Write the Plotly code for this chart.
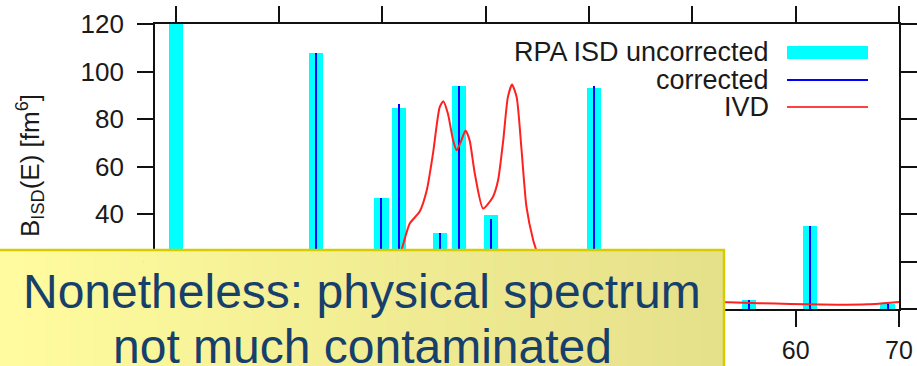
import plotly.graph_objects as go

# Discrete RPA strengths: excitation energy (MeV) and B_ISD (fm^6)
energies = [0.05, 13.6, 19.9, 21.6, 25.6, 27.4, 30.5, 40.5, 52.5, 55.5, 61.4, 68.9]
isd_uncorrected = [128.0, 107.7, 46.9, 84.6, 32.2, 93.8, 39.6, 93.0, 15.5, 3.8, 35.0, 2.0]
isd_corrected = [0.0, 107.7, 46.9, 86.4, 32.2, 93.8, 37.7, 93.8, 15.0, 3.8, 35.0, 2.0]

# Folded IVD strength curve
ivd_energy = [0, 5, 10, 15, 18, 20, 21.0, 21.85, 22.65, 23.6, 24.3, 24.9, 25.55, 25.9,
              26.35, 26.85, 27.2, 27.65, 28.05, 28.45, 28.95, 29.75, 30.7, 31.2, 31.7,
              32.15, 32.55, 33.0, 33.45, 33.95, 34.6, 34.9, 35.5, 36.5, 38, 40, 42, 45,
              48, 52, 55, 58, 61, 64, 67, 70]
ivd_strength = [0.5, 0.8, 1.2, 2.5, 5, 9, 15, 24.8, 36.0, 40.9, 50.0, 65.4, 85.0, 87.5,
                82.2, 71.0, 66.8, 71.0, 75.2, 71.0, 57.0, 42.3, 47.2, 54.2, 71.0,
                89.2, 94.5, 89.2, 68.2, 43.0, 29.0, 24.8, 17, 10, 6, 5, 4.5, 4,
                3.5, 3, 2.6, 2.3, 2.0, 1.8, 2.0, 3.0]

x_ticks = [0, 10, 20, 30, 40, 50, 60, 70]
y_ticks = [0, 20, 40, 60, 80, 100, 120]
# tick labels left uncovered by the callout box
x_labels = [60, 70]
y_labels = [40, 60, 80, 100, 120]

FONT = "Liberation Sans, Arial, Helvetica, sans-serif"
W, H = 917, 366
ML, MR, MT, MB = 155, 18, 24, 57
PW, PH = W - ML - MR, H - MT - MB
X_RANGE = [-2, 70]
Y_RANGE = [0, 120]


def px_x(px):
    return (px - ML) / PW


def px_y(py):
    return (H - MB - py) / PH


fig = go.Figure()

fig.add_trace(go.Bar(x=energies, y=isd_uncorrected, width=1.4,
                     marker=dict(color="#00ffff", line=dict(width=0)),
                     name="RPA ISD uncorrected"))
fig.add_trace(go.Bar(x=energies, y=isd_corrected, width=0.2,
                     marker=dict(color="#0000ff", line=dict(width=0)),
                     name="corrected"))
fig.add_trace(go.Scatter(x=ivd_energy, y=ivd_strength, mode="lines",
                         line=dict(color="#ff2020", width=2, shape="spline", smoothing=0.6),
                         name="IVD"))
# carrier for the label-only axes
fig.add_trace(go.Scatter(x=[], y=[], xaxis="x2", yaxis="y2", showlegend=False,
                         hoverinfo="skip"))

frame = dict(showline=True, linecolor="#111111", linewidth=1.5,
             ticks="outside", ticklen=16, tickwidth=1.5, tickcolor="#111111",
             mirror="ticks", showgrid=False, zeroline=False, showticklabels=False)
label_only = dict(showline=False, ticks="", showgrid=False, zeroline=False)

fig.update_layout(
    width=W, height=H,
    margin=dict(l=ML, r=MR, t=MT, b=MB, autoexpand=False),
    paper_bgcolor="white", plot_bgcolor="white",
    barmode="overlay", bargap=0, showlegend=False,
    xaxis=dict(range=X_RANGE, tickvals=x_ticks, **frame),
    yaxis=dict(range=Y_RANGE, tickvals=y_ticks, **frame),
    xaxis2=dict(range=X_RANGE, tickvals=x_labels, overlaying="x", side="bottom",
                anchor="y2", ticklabelstandoff=24,
                tickfont=dict(family=FONT, size=25, color="#1a1a1a"), **label_only),
    yaxis2=dict(range=Y_RANGE, tickvals=y_labels, overlaying="y", side="left",
                anchor="x2", ticklabelstandoff=30,
                tickfont=dict(family=FONT, size=26, color="#1a1a1a"), **label_only),
)

shapes = []
annotations = []

# Key, drawn with labels on the left and samples on the right
key_rows = [("RPA ISD uncorrected", 52.5, "#00ffff", 13),
            ("corrected", 80, "#0000ff", 2),
            ("IVD", 107, "#ff4040", 2)]
for label, py, color, lw in key_rows:
    annotations.append(dict(xref="paper", yref="paper", x=px_x(771), y=px_y(py),
                            xanchor="right", yanchor="middle", showarrow=False,
                            text=label, font=dict(family=FONT, size=27, color="#1a1a1a")))
    shapes.append(dict(type="line", xref="paper", yref="paper",
                       x0=px_x(787), x1=px_x(868), y0=px_y(py), y1=px_y(py),
                       line=dict(color=color, width=lw), layer="above"))

# Y-axis title
annotations.append(dict(xref="paper", yref="paper", x=px_x(30), y=px_y(166),
                        xanchor="center", yanchor="middle", showarrow=False, textangle=-90,
                        text="B<sub>ISD</sub>(E) [fm<sup>6</sup>]",
                        font=dict(family=FONT, size=26, color="#1a1a1a")))

# Callout box with a left-to-right yellow shading
box_l, box_r, box_t, box_b = -2, 724, 250, 380
n_strips = 60
c0 = (255, 251, 158)
c1 = (229, 224, 138)
for i in range(n_strips):
    t = i / (n_strips - 1)
    r = round(c0[0] + (c1[0] - c0[0]) * t)
    g = round(c0[1] + (c1[1] - c0[1]) * t)
    b = round(c0[2] + (c1[2] - c0[2]) * t)
    xa = box_l + (box_r - box_l) * i / n_strips
    xb = box_l + (box_r - box_l) * (i + 1) / n_strips + 0.6
    shapes.append(dict(type="rect", xref="paper", yref="paper",
                       x0=px_x(xa), x1=px_x(xb), y0=px_y(box_b), y1=px_y(box_t),
                       fillcolor=f"rgb({r},{g},{b})", line=dict(width=0), layer="above"))
shapes.append(dict(type="rect", xref="paper", yref="paper",
                   x0=px_x(box_l), x1=px_x(box_r), y0=px_y(box_b), y1=px_y(box_t),
                   fillcolor="rgba(0,0,0,0)", line=dict(color="#d6cc00", width=2.5),
                   layer="above"))

annotations.append(dict(xref="paper", yref="paper", x=px_x(362), y=px_y(291),
                        xanchor="center", yanchor="middle", showarrow=False,
                        text="Nonetheless: physical spectrum",
                        font=dict(family=FONT, size=48, color="#173f6b")))
annotations.append(dict(xref="paper", yref="paper", x=px_x(362), y=px_y(346),
                        xanchor="center", yanchor="middle", showarrow=False,
                        text="not much contaminated",
                        font=dict(family=FONT, size=48, color="#173f6b")))

fig.update_layout(shapes=shapes, annotations=annotations)
fig.write_html("out.html")
